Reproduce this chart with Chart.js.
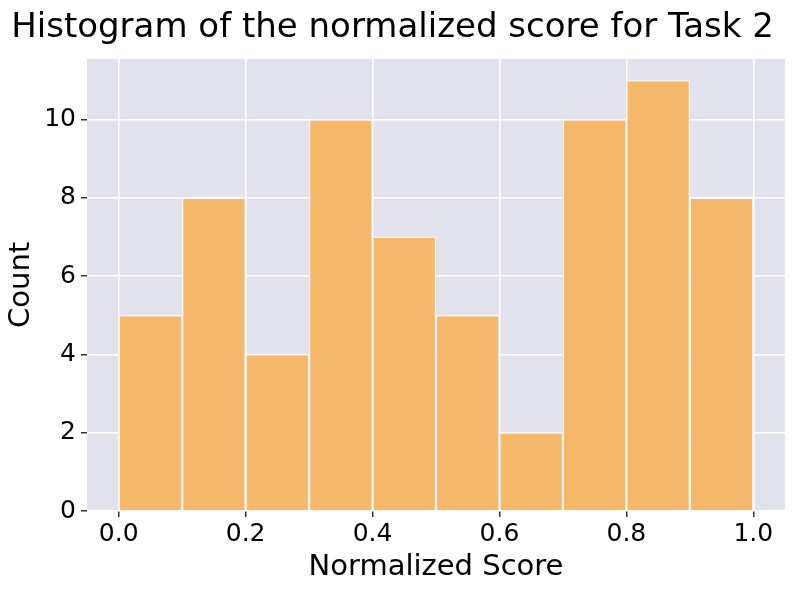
<!DOCTYPE html>
<html>
<head>
<meta charset="utf-8">
<script src="https://cdn.jsdelivr.net/npm/chart.js@4"></script>
<style>
  html, body { margin: 0; padding: 0; background: #fff; }
  #wrap { width: 793px; height: 594px; }
</style>
</head>
<body>
<div id="wrap"><canvas id="hist" width="793" height="594"></canvas></div>
<script>
// Histogram bins (centres) and counts
const binCenters = [0.05, 0.15, 0.25, 0.35, 0.45, 0.55, 0.65, 0.75, 0.85, 0.95];
const counts = [5, 8, 4, 10, 7, 5, 2, 10, 11, 8];
const xTicks = [0.0, 0.2, 0.4, 0.6, 0.8, 1.0];
const yTicks = [0, 2, 4, 6, 8, 10];

const FONT = 'DejaVu Sans';

// Fill the plot area with the seaborn-like background
const plotBackground = {
  id: 'plotBackground',
  beforeDraw(chart) {
    const { ctx, chartArea } = chart;
    ctx.save();
    ctx.fillStyle = '#e2e2ed';
    ctx.fillRect(chartArea.left, chartArea.top, chartArea.right - chartArea.left, chartArea.bottom - chartArea.top);
    ctx.restore();
  }
};

const ctx = document.getElementById('hist').getContext('2d');
const chart = new Chart(ctx, {
  type: 'bar',
  data: {
    datasets: [{
      label: 'Count',
      data: binCenters.map((x, i) => ({ x: x, y: counts[i] })),
      backgroundColor: '#f5b86a',
      borderColor: 'rgba(250,246,244,0.9)',
      borderWidth: 1.5,
      barPercentage: 1,
      categoryPercentage: 1
    }]
  },
  options: {
    responsive: false,
    animation: false,
    layout: { padding: { left: 0, right: 8, top: 0, bottom: 0 } },
    plugins: {
      legend: { display: false },
      tooltip: { enabled: false },
      title: {
        display: true,
        text: 'Histogram of the normalized score for Task 2',
        color: '#000',
        font: { family: FONT, size: 34, weight: 'normal' },
        padding: { top: 8, bottom: 10 }
      }
    },
    scales: {
      x: {
        type: 'linear',
        offset: false,
        min: -0.05,
        max: 1.05,
        afterBuildTicks(scale) {
          scale.ticks = xTicks.map(v => ({ value: v }));
        },
        afterFit(scale) { scale.height = 83; },
        ticks: {
          color: '#000',
          font: { family: FONT, size: 25 },
          padding: 2,
          maxRotation: 0,
          autoSkip: false,
          callback: v => Number(v).toFixed(1)
        },
        grid: { offset: false, color: '#ffffff', lineWidth: 1.5, tickColor: '#333', tickLength: 6 },
        border: { display: false },
        title: {
          display: true,
          text: 'Normalized Score',
          color: '#000',
          font: { family: FONT, size: 29 },
          padding: { top: 9, bottom: 9 }
        }
      },
      y: {
        min: 0,
        max: 11.55,
        afterBuildTicks(scale) {
          scale.ticks = yTicks.map(v => ({ value: v }));
        },
        afterFit(scale) { scale.width = 87; },
        ticks: {
          color: '#000',
          font: { family: FONT, size: 25 },
          padding: 5
        },
        grid: { color: '#ffffff', lineWidth: 1.5, tickColor: '#333', tickLength: 6 },
        border: { display: false },
        title: {
          display: true,
          text: 'Count',
          color: '#000',
          font: { family: FONT, size: 29 },
          padding: { top: 4, bottom: 4 }
        }
      }
    }
  },
  plugins: [plotBackground]
});
</script>
</body>
</html>
